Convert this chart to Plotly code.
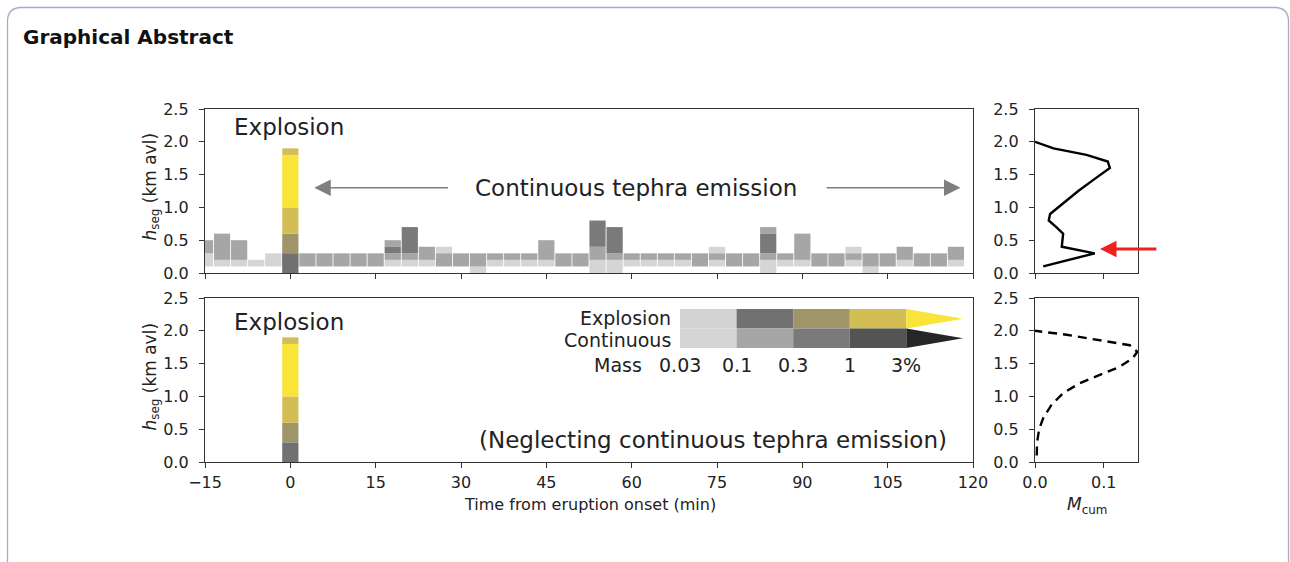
import plotly.graph_objects as go

FONT = "DejaVu Sans"
INK = "#222222"
W, H = 1290, 562

# Start of each 3-minute emission interval (min from eruption onset)
times = [-15, -12, -9, -6, -3, 0, 3, 6, 9, 12, 15, 18, 21, 24, 27, 30, 33, 36, 39,
         42, 45, 48, 51, 54, 57, 60, 63, 66, 69, 72, 75, 78, 81, 84, 87, 90, 93,
         96, 99, 102, 105, 108, 111, 114, 117]

# Mass class of each 0.1-km height segment, listed from 0.0 km upward
# (0: < 0.03 %, 1: 0.03-0.1 %, 2: 0.1-0.3 %, 3: 0.3-1 %, 4: 1-3 %, 5: > 3 %)
continuous_classes = [
    [0, 1, 1, 2, 2], [0, 1, 2, 2, 2, 2], [0, 1, 2, 2, 2], [0, 1], [0, 1, 1],
    [0, 2, 2], [0, 2, 2], [0, 2, 2], [0, 2, 2], [0, 2, 2], [0, 2, 2],
    [0, 1, 2, 3, 2], [0, 1, 2, 3, 3, 3, 3], [0, 1, 2, 2], [0, 2, 2, 1],
    [0, 2, 2], [1, 2, 2], [0, 1, 2], [0, 1, 2], [0, 1, 2], [0, 1, 2, 2, 2],
    [0, 2, 2], [0, 2, 2], [1, 1, 2, 2, 3, 3, 3, 3], [1, 1, 2, 3, 3, 3, 3],
    [0, 1, 2], [0, 1, 2], [0, 1, 2], [0, 1, 2], [0, 2, 2], [0, 1, 2, 1],
    [0, 2, 2], [0, 2, 2], [1, 1, 2, 3, 3, 3, 2], [0, 1, 2], [0, 1, 2, 2, 2, 2],
    [0, 2, 2], [0, 2, 2], [0, 1, 2, 1], [1, 2, 2], [0, 2, 2], [0, 1, 2, 2],
    [0, 2, 2], [0, 2, 2], [0, 1, 2, 2],
]
explosion_time = 0
explosion_classes = [2, 2, 2, 3, 3, 3, 4, 4, 4, 4, 5, 5, 5, 5, 5, 5, 5, 5, 4]
seg_height = 0.1
bar_width = 2.85

mass_labels = ["0.03", "0.1", "0.3", "1", "3%"]
explosion_colors = {1: "#d3d3d3", 2: "#727170", 3: "#a09568", 4: "#d2be55", 5: "#f9e43a"}
continuous_colors = {1: "#d5d5d5", 2: "#a6a6a6", 3: "#7a7a7a", 4: "#545454", 5: "#262626"}

# Cumulative mass profiles M_cum against segment height (km avl)
profile_h = [0.1, 0.3, 0.4, 0.6, 0.7, 0.8, 0.9, 1.0, 1.25, 1.45, 1.6, 1.7, 1.8, 1.9, 1.95, 2.0]
profile_m = [0.012, 0.087, 0.039, 0.041, 0.031, 0.020, 0.022, 0.034, 0.063, 0.089,
             0.109, 0.106, 0.075, 0.027, 0.012, 0.0]
profile_expl_h = [0.1, 0.3, 0.5, 0.67, 0.87, 1.05, 1.2, 1.33, 1.45, 1.58, 1.68, 1.78,
                  1.86, 1.94, 2.0]
profile_expl_m = [0.0025, 0.003, 0.006, 0.012, 0.024, 0.041, 0.065, 0.094, 0.123,
                  0.142, 0.149, 0.138, 0.094, 0.046, 0.0]


def px_x(px):
    return px / W


def px_y(py):
    return 1 - py / H


def segment_traces(t_list, class_lists, colors, xa, ya):
    """One bar trace per mass class; runs of equal class in a column become one bar."""
    runs = {c: ([], [], []) for c in colors}
    for t, classes in zip(t_list, class_lists):
        i = 0
        while i < len(classes):
            j = i
            while j + 1 < len(classes) and classes[j + 1] == classes[i]:
                j += 1
            c = classes[i]
            if c in runs:
                runs[c][0].append(t)
                runs[c][1].append(i * seg_height)
                runs[c][2].append((j - i + 1) * seg_height)
            i = j + 1
    traces = []
    for c in sorted(colors):
        xs, bases, lengths = runs[c]
        if xs:
            traces.append(go.Bar(
                x=xs, y=lengths, base=bases, width=bar_width,
                marker=dict(color=colors[c], line=dict(width=0)),
                xaxis=xa, yaxis=ya, showlegend=False, hoverinfo="skip"))
    return traces


fig = go.Figure()
for tr in segment_traces(times, continuous_classes, continuous_colors, "x", "y"):
    fig.add_trace(tr)
for xa, ya in (("x", "y"), ("x2", "y2")):
    for tr in segment_traces([explosion_time], [explosion_classes], explosion_colors, xa, ya):
        fig.add_trace(tr)

fig.add_trace(go.Scatter(x=profile_m, y=profile_h, mode="lines",
                         line=dict(color="black", width=2.4),
                         xaxis="x3", yaxis="y3", showlegend=False))
fig.add_trace(go.Scatter(x=profile_expl_m, y=profile_expl_h, mode="lines",
                         line=dict(color="black", width=2.4, dash="9px,6px"),
                         xaxis="x4", yaxis="y4", showlegend=False))

axis_common = dict(showgrid=False, zeroline=False, showline=True, mirror=True,
                   linecolor="#333333", linewidth=1.4, ticks="outside", ticklen=5,
                   tickwidth=1.3, tickcolor="#333333", automargin=False,
                   tickfont=dict(family=FONT, size=16, color=INK))
xaxis_common = dict(axis_common, ticklabelstandoff=1)
yaxis_common = dict(axis_common, ticklabelstandoff=7)

main_x = [px_x(205), px_x(973)]
side_x = [px_x(1035), px_x(1138)]
top_y = [px_y(273), px_y(109)]
bot_y = [px_y(462), px_y(298)]
time_ticks = list(range(-15, 121, 15))
h_ticks = [0, 0.5, 1.0, 1.5, 2.0, 2.5]

# pixel box of the mass colour key
key_x0, key_x1, key_y0, key_y1 = 680, 963, 309, 348

layout = dict(
    width=W, height=H, autosize=False,
    margin=dict(l=0, r=0, t=0, b=0, pad=0, autoexpand=False),
    paper_bgcolor="white", plot_bgcolor="white", barmode="overlay",
    font=dict(family=FONT, color=INK),
    xaxis=dict(xaxis_common, domain=main_x, anchor="y", range=[-15, 120],
               tickvals=time_ticks, showticklabels=False),
    yaxis=dict(yaxis_common, domain=top_y, anchor="x", range=[0, 2.5],
               tickvals=h_ticks, tickformat=".1f"),
    xaxis2=dict(xaxis_common, domain=main_x, anchor="y2", range=[-15, 120],
                tickvals=time_ticks),
    yaxis2=dict(yaxis_common, domain=bot_y, anchor="x2", range=[0, 2.5],
                tickvals=h_ticks, tickformat=".1f"),
    xaxis3=dict(xaxis_common, domain=side_x, anchor="y3", range=[0, 0.15],
                tickvals=[0, 0.1], showticklabels=False),
    yaxis3=dict(yaxis_common, domain=top_y, anchor="x3", range=[0, 2.5],
                tickvals=h_ticks, tickformat=".1f"),
    xaxis4=dict(xaxis_common, domain=side_x, anchor="y4", range=[0, 0.15],
                tickvals=[0, 0.1], tickformat=".1f"),
    yaxis4=dict(yaxis_common, domain=bot_y, anchor="x4", range=[0, 2.5],
                tickvals=h_ticks, tickformat=".1f"),
    xaxis5=dict(domain=[px_x(key_x0), px_x(key_x1)], anchor="y5", range=[0, 5],
                visible=False, automargin=False),
    yaxis5=dict(domain=[px_y(key_y1), px_y(key_y0)], anchor="x5", range=[0, 2],
                visible=False, automargin=False),
)
fig.update_layout(layout)

shapes = []
# mass colour key: explosion row on top, continuous row below
n = len(mass_labels) - 1
for row_lo, colors in ((1, explosion_colors), (0, continuous_colors)):
    for i in range(n):
        shapes.append(dict(type="rect", xref="x5", yref="y5", x0=i, x1=i + 1,
                           y0=row_lo, y1=row_lo + 1, line=dict(width=0),
                           fillcolor=colors[i + 1]))
    shapes.append(dict(type="path", xref="x5", yref="y5",
                       path=f"M{n},{row_lo} L{n + 1},{row_lo + 0.5} L{n},{row_lo + 1} Z",
                       line=dict(width=0), fillcolor=colors[5]))

# rounded outer frame
l, t, r, b = px_x(7.5), px_y(7.5), px_x(1288.5), px_y(600)
rx, ry = 14 / W, 14 / H
shapes.append(dict(type="path", xref="paper", yref="paper",
                   path=(f"M{l},{b} L{l},{t - ry} Q{l},{t} {l + rx},{t} "
                         f"L{r - rx},{t} Q{r},{t} {r},{t - ry} L{r},{b}"),
                   line=dict(color="#a3adc6", width=1.3)))
fig.update_layout(shapes=shapes)

ann = []
ann.append(dict(text="<b>Graphical Abstract</b>", xref="paper", yref="paper",
                x=px_x(21), y=px_y(37), xanchor="left", yanchor="middle",
                showarrow=False, font=dict(family=FONT, size=20, color="#111111")))
big = dict(family=FONT, size=23, color=INK)
ann.append(dict(text="Explosion", xref="x", yref="y", x=-10.3, y=2.22,
                xanchor="left", yanchor="middle", showarrow=False, font=big))
ann.append(dict(text="Explosion", xref="x2", yref="y2", x=-10.3, y=2.13,
                xanchor="left", yanchor="middle", showarrow=False, font=big))
ann.append(dict(text="Continuous tephra emission", xref="x", yref="y", x=60.8, y=1.30,
                xanchor="center", yanchor="middle", showarrow=False, font=big))
ann.append(dict(text="(Neglecting continuous tephra emission)", xref="x2", yref="y2",
                x=115.8, y=0.34, xanchor="right", yanchor="middle",
                showarrow=False, font=big))
for tip, tail in ((4.2, 28.0), (117.8, 94.0)):
    ann.append(dict(text="", xref="x", yref="y", axref="x", ayref="y",
                    x=tip, y=1.30, ax=tail, ay=1.30, showarrow=True,
                    arrowhead=2, arrowsize=2.2, arrowwidth=1.5, arrowcolor="#7f7f7f"))
ann.append(dict(text="", xref="x3", yref="y3", axref="x3", ayref="y3",
                x=0.0947, y=0.366, ax=0.179, ay=0.366, showarrow=True,
                arrowhead=2, arrowsize=1.1, arrowwidth=3, arrowcolor="#ee2020"))

# key labels, placed in paper units from the key's pixel box
cell_w = (key_x1 - key_x0) / (n + 1)
key_font = dict(family=FONT, size=19, color=INK)
ann.append(dict(text="Explosion", xref="paper", yref="paper", x=px_x(key_x0 - 7),
                y=px_y(318), xanchor="right", yanchor="middle", showarrow=False,
                font=key_font))
ann.append(dict(text="Continuous", xref="paper", yref="paper", x=px_x(key_x0 - 7),
                y=px_y(340), xanchor="right", yanchor="middle", showarrow=False,
                font=key_font))
ann.append(dict(text="Mass", xref="paper", yref="paper", x=px_x(644), y=px_y(365),
                xanchor="right", yanchor="middle", showarrow=False, font=key_font))
for i, lab in enumerate(mass_labels):
    ann.append(dict(text=lab, xref="paper", yref="paper", x=px_x(key_x0 + i * cell_w),
                    y=px_y(365), xanchor="center", yanchor="middle", showarrow=False,
                    font=key_font))

ytitle = "<i>h</i><sub>seg</sub> (km avl)"
for yc in (186.5, 376.5):
    ann.append(dict(text=ytitle, xref="paper", yref="paper", x=px_x(151), y=px_y(yc),
                    xanchor="center", yanchor="middle", textangle=-90, showarrow=False,
                    font=dict(family=FONT, size=17, color=INK)))
ann.append(dict(text="Time from eruption onset (min)", xref="paper", yref="paper",
                x=px_x(589.5), y=px_y(504), xanchor="center", yanchor="middle",
                showarrow=False, font=dict(family=FONT, size=16, color=INK)))
ann.append(dict(text="<i>M</i><sub>cum</sub>", xref="paper", yref="paper",
                x=px_x(1086.5), y=px_y(505), xanchor="center", yanchor="middle",
                showarrow=False, font=dict(family=FONT, size=17, color=INK)))
fig.update_layout(annotations=ann)

fig.write_html(
    "out.html",
    post_script="document.body.style.margin='0';document.body.style.overflow='hidden';",
)
